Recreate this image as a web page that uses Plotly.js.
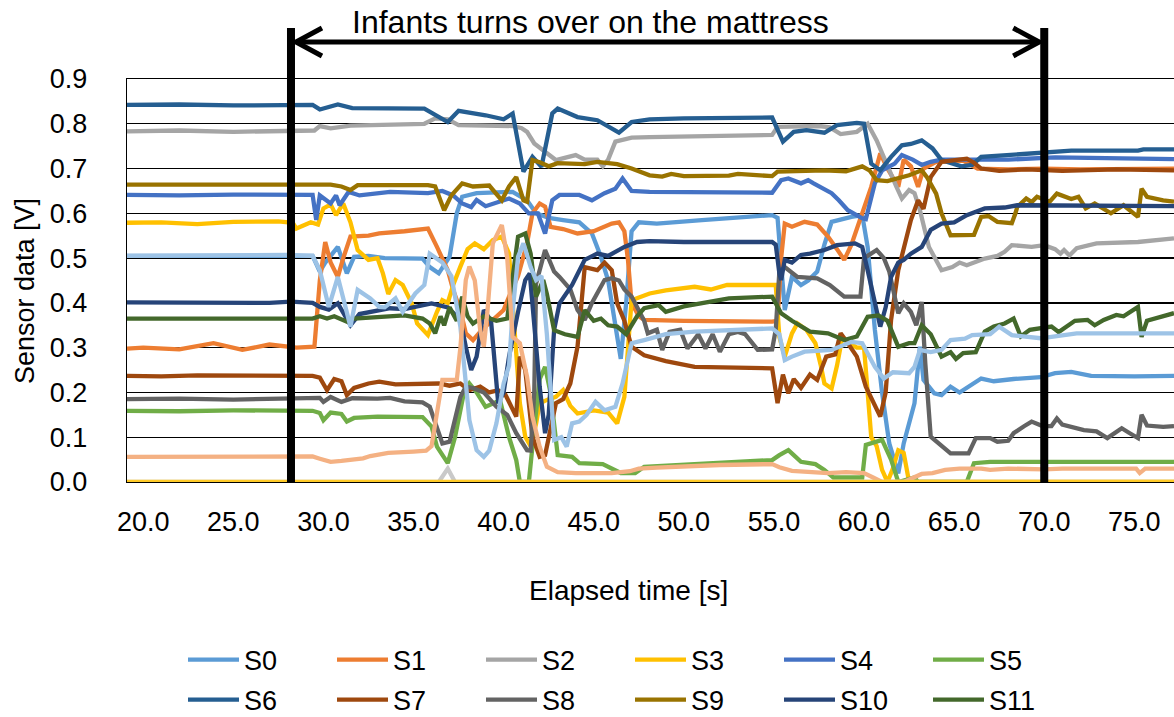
<!DOCTYPE html>
<html>
<head>
<meta charset="utf-8">
<script src="https://cdn.plot.ly/plotly-3.0.1.min.js"></script>
<style>html,body{margin:0;padding:0;background:#fff;}#chart{width:1174px;height:717px;}</style>
</head>
<body>
<div id="chart"></div>
<script>
// ---- data: [elapsed time (s), sensor voltage (V)] ----
const S0 = [[19.1,0.505],[22,0.505],[25,0.503],[27,0.505],[29.4,0.505],[29.8,0.47],[30.1,0.49],[30.8,0.525],[31.3,0.466],[31.7,0.503],[32.5,0.505],[33.4,0.50],[34.5,0.50],[35.5,0.499],[35.9,0.48],[36.4,0.466],[37.0,0.503],[37.4,0.60],[37.7,0.637],[38.5,0.645],[40.5,0.648],[41.3,0.629],[41.8,0.60],[42.5,0.59],[43.3,0.585],[44.2,0.58],[44.9,0.555],[45.4,0.503],[45.8,0.45],[46.2,0.35],[46.5,0.275],[46.8,0.40],[47.1,0.56],[47.5,0.58],[48.5,0.577],[51,0.585],[54.9,0.596],[55.2,0.59],[55.5,0.42],[55.6,0.384],[56.0,0.458],[56.5,0.44],[56.9,0.45],[57.4,0.47],[57.8,0.53],[58.2,0.581],[59.3,0.592],[59.9,0.596],[60.2,0.525],[60.6,0.34],[61.0,0.2],[61.4,0.086],[61.9,0.019],[62.2,0.086],[62.8,0.176],[63.1,0.302],[63.3,0.228],[63.9,0.198],[64.3,0.194],[64.8,0.213],[65.3,0.20],[65.7,0.21],[66.5,0.231],[67.2,0.225],[68.3,0.23],[69.8,0.234],[70.6,0.243],[71.5,0.246],[72.6,0.237],[75,0.236],[77.2,0.237]];
const S1 = [[19.1,0.298],[20,0.30],[22,0.296],[23.9,0.31],[25.5,0.295],[27,0.307],[28.5,0.30],[29.5,0.302],[29.8,0.45],[30.1,0.536],[30.4,0.49],[30.8,0.458],[31.1,0.50],[31.5,0.548],[32.5,0.55],[33.1,0.555],[34.5,0.56],[35.8,0.566],[36.3,0.525],[36.9,0.473],[37.2,0.429],[37.6,0.384],[37.9,0.332],[38.3,0.317],[38.8,0.34],[39.4,0.362],[40.0,0.384],[40.3,0.414],[40.8,0.46],[41.3,0.533],[41.6,0.60],[42.0,0.622],[42.3,0.615],[42.6,0.57],[43.3,0.565],[44.1,0.555],[45.0,0.56],[46.0,0.577],[46.4,0.58],[46.7,0.56],[46.9,0.496],[47.1,0.40],[47.5,0.37],[47.8,0.362],[50,0.36],[54.9,0.358],[55.2,0.36],[55.4,0.50],[55.6,0.577],[56.0,0.57],[56.7,0.581],[57.4,0.575],[58.0,0.548],[58.5,0.52],[58.9,0.496],[59.3,0.53],[59.9,0.60],[60.4,0.659],[60.9,0.734],[61.3,0.70],[61.9,0.659],[62.2,0.72],[62.6,0.705],[63.0,0.659],[63.3,0.70],[64,0.715],[65.5,0.718],[66.3,0.70],[68,0.698],[70,0.70],[72,0.698],[75,0.70],[77.2,0.70]];
const S2 = [[19.1,0.783],[22,0.785],[25,0.782],[28.5,0.784],[29.5,0.785],[29.8,0.795],[30.4,0.79],[31.5,0.796],[33.4,0.798],[35.6,0.80],[36.2,0.812],[36.9,0.81],[37.5,0.797],[39,0.795],[40.5,0.795],[41.0,0.79],[41.3,0.782],[41.7,0.756],[42.3,0.737],[42.9,0.719],[43.6,0.726],[44.0,0.73],[44.5,0.72],[45.2,0.72],[45.5,0.705],[45.8,0.72],[46.2,0.76],[47.1,0.769],[48.1,0.77],[52,0.772],[54.9,0.775],[55.2,0.793],[56.5,0.795],[57.5,0.795],[58.1,0.792],[58.7,0.777],[59.6,0.782],[60.2,0.80],[60.7,0.763],[61.3,0.704],[61.8,0.659],[62.1,0.633],[62.5,0.652],[62.8,0.645],[63.1,0.607],[63.6,0.525],[64.1,0.484],[64.3,0.473],[64.9,0.48],[65.3,0.49],[65.7,0.484],[66.7,0.499],[67.4,0.505],[67.8,0.514],[68.2,0.529],[69.3,0.525],[70.0,0.529],[70.6,0.52],[70.9,0.51],[71.1,0.518],[71.4,0.506],[71.8,0.522],[72.9,0.533],[75.2,0.536],[77.2,0.544]];
const S3 = [[19.1,0.579],[21,0.58],[23,0.576],[25,0.581],[27.5,0.582],[28.3,0.579],[28.5,0.566],[29.3,0.58],[29.7,0.575],[30.0,0.611],[30.4,0.62],[30.7,0.596],[31.1,0.622],[31.5,0.58],[31.9,0.518],[32.5,0.496],[33.0,0.50],[33.3,0.466],[33.6,0.42],[34.0,0.451],[34.4,0.44],[34.9,0.399],[35.2,0.354],[35.8,0.328],[36.3,0.38],[36.6,0.406],[36.9,0.40],[37.2,0.44],[37.6,0.481],[38.0,0.52],[38.4,0.533],[38.9,0.52],[39.4,0.54],[39.9,0.548],[40.3,0.51],[40.6,0.35],[40.9,0.176],[41.2,0.101],[41.5,0.08],[41.8,0.13],[42.0,0.176],[42.5,0.185],[42.9,0.19],[43.3,0.205],[43.7,0.17],[44.1,0.153],[45,0.16],[45.8,0.155],[46.3,0.131],[46.7,0.19],[47.1,0.406],[48.1,0.421],[49,0.428],[50.6,0.436],[51.5,0.43],[52.4,0.44],[54.9,0.442],[55.1,0.44],[55.3,0.324],[55.6,0.28],[56.0,0.332],[56.3,0.354],[56.8,0.34],[57.3,0.31],[57.6,0.26],[57.8,0.22],[58.2,0.209],[58.5,0.26],[58.8,0.324],[59.2,0.31],[59.6,0.30],[60.0,0.30],[60.2,0.20],[60.4,0.10],[60.7,0.08],[61.0,0.027],[61.3,0.0],[61.6,0.03],[61.9,0.071],[62.2,0.065],[62.5,0.0],[77.2,0.0]];
const S4 = [[19.1,0.641],[22,0.64],[25,0.642],[28,0.641],[29.4,0.641],[29.6,0.585],[29.8,0.64],[30.4,0.622],[30.7,0.64],[30.9,0.618],[31.4,0.648],[32,0.64],[33.7,0.648],[35.8,0.645],[36.6,0.65],[37.2,0.64],[37.7,0.622],[38.2,0.614],[38.5,0.63],[39.0,0.616],[39.6,0.625],[40.3,0.633],[40.9,0.622],[41.4,0.60],[41.9,0.60],[42.3,0.555],[42.7,0.629],[43.1,0.641],[44.2,0.641],[44.9,0.629],[45.6,0.645],[46.2,0.655],[46.6,0.678],[47.1,0.65],[48.1,0.648],[52,0.646],[54.9,0.646],[55.4,0.674],[55.8,0.678],[56.5,0.667],[56.9,0.674],[57.2,0.667],[57.8,0.655],[58.2,0.645],[58.6,0.629],[59.1,0.607],[59.9,0.589],[60.1,0.587],[60.6,0.667],[61.0,0.696],[61.7,0.711],[62.1,0.73],[62.7,0.72],[63.2,0.708],[63.7,0.715],[64.3,0.72],[66,0.72],[68,0.72],[70.6,0.725],[73,0.723],[77.2,0.721]];
const S5 = [[19.1,0.159],[22,0.158],[25,0.16],[28,0.159],[29.4,0.159],[29.8,0.154],[30.0,0.138],[30.4,0.155],[31.0,0.152],[31.3,0.135],[31.7,0.143],[33,0.146],[35.5,0.145],[36.0,0.124],[36.3,0.079],[36.9,0.042],[37.3,0.10],[37.8,0.20],[38.1,0.22],[38.5,0.20],[39.0,0.168],[39.4,0.175],[39.8,0.183],[40.3,0.10],[40.7,0.049],[40.9,0.0],[41.4,0.0],[41.7,0.12],[42.0,0.23],[42.3,0.257],[42.6,0.20],[43.0,0.06],[43.8,0.056],[44.2,0.042],[45.5,0.04],[46.5,0.02],[47.3,0.02],[47.8,0.034],[50.6,0.04],[52.4,0.045],[54.9,0.049],[55.3,0.06],[55.8,0.071],[56.1,0.06],[56.5,0.045],[57.3,0.04],[57.8,0.027],[58.3,0.01],[59.9,0.01],[60.1,0.083],[61.0,0.094],[61.5,0.05],[61.9,0.0],[62.8,0.01],[63.0,0.0],[65.7,0.0],[66.1,0.042],[67,0.045],[77.2,0.045]];
const S6 = [[19.1,0.842],[22,0.843],[25,0.841],[28,0.842],[29.4,0.842],[29.8,0.832],[30.8,0.843],[31.6,0.835],[33.4,0.834],[35.6,0.834],[36.9,0.804],[37.5,0.829],[39.0,0.819],[40.0,0.81],[40.5,0.823],[41.1,0.693],[41.6,0.726],[42.1,0.704],[42.7,0.823],[43.0,0.834],[44.1,0.815],[45.2,0.808],[46.4,0.78],[47.1,0.804],[48.1,0.81],[50,0.812],[54.9,0.814],[55.5,0.76],[56.1,0.782],[56.8,0.786],[57.8,0.78],[58.5,0.797],[59.6,0.802],[60.0,0.80],[60.4,0.711],[60.9,0.696],[61.5,0.726],[62.1,0.752],[62.6,0.755],[63.2,0.763],[63.8,0.745],[64.3,0.719],[65.4,0.705],[66.0,0.708],[66.5,0.726],[67.8,0.73],[69.6,0.735],[71.5,0.74],[75.2,0.74],[75.5,0.743],[77.2,0.743]];
const S7 = [[19.1,0.237],[21,0.236],[23,0.238],[25,0.237],[27,0.238],[29.4,0.237],[29.8,0.233],[30.2,0.205],[30.6,0.23],[31.0,0.225],[31.3,0.194],[31.7,0.21],[32.5,0.22],[33.1,0.224],[34,0.218],[35.6,0.22],[36.4,0.22],[37.0,0.215],[37.6,0.22],[38.1,0.205],[38.7,0.213],[39.2,0.20],[39.7,0.205],[40.1,0.195],[40.7,0.146],[40.9,0.28],[41.2,0.25],[41.6,0.101],[42.0,0.056],[42.3,0.06],[42.9,0.176],[43.3,0.185],[43.7,0.22],[44.1,0.302],[44.3,0.40],[44.5,0.48],[45.2,0.473],[45.6,0.49],[46.0,0.473],[46.3,0.399],[46.7,0.36],[47.1,0.302],[47.8,0.283],[49,0.27],[50.6,0.257],[54.9,0.254],[55.2,0.176],[55.5,0.24],[55.8,0.198],[56.1,0.23],[56.5,0.21],[57.0,0.24],[57.4,0.228],[57.9,0.28],[58.4,0.285],[58.7,0.332],[59.1,0.31],[59.6,0.28],[60.1,0.213],[60.6,0.168],[60.9,0.146],[61.2,0.20],[61.5,0.362],[61.9,0.473],[62.2,0.518],[62.6,0.585],[63.0,0.629],[63.3,0.61],[63.7,0.681],[64.3,0.715],[65.7,0.722],[66.1,0.713],[66.5,0.70],[67.5,0.695],[69,0.698],[71,0.695],[74,0.698],[77.2,0.696]];
const S8 = [[19.1,0.185],[22,0.186],[25,0.184],[28,0.185],[29.4,0.186],[29.8,0.188],[30.0,0.179],[30.4,0.19],[31.0,0.179],[31.6,0.187],[33,0.186],[33.7,0.188],[34.5,0.18],[35.5,0.178],[35.9,0.168],[36.3,0.12],[36.6,0.086],[37.0,0.09],[37.6,0.19],[37.9,0.213],[38.3,0.21],[38.9,0.20],[39.6,0.168],[40.2,0.15],[40.7,0.109],[41.3,0.071],[41.5,0.07],[41.7,0.20],[41.8,0.443],[42.3,0.518],[42.8,0.47],[43.1,0.458],[43.7,0.43],[44.1,0.384],[44.5,0.362],[44.9,0.40],[45.6,0.451],[46.0,0.455],[46.4,0.45],[46.7,0.43],[47.1,0.414],[47.8,0.36],[48.0,0.332],[48.5,0.34],[48.8,0.295],[49.2,0.335],[49.8,0.34],[50.2,0.298],[50.8,0.33],[51.2,0.298],[51.6,0.33],[52.0,0.291],[52.5,0.33],[53.0,0.335],[53.4,0.33],[54.1,0.295],[54.9,0.296],[55.1,0.34],[55.3,0.47],[55.6,0.48],[56.3,0.458],[57.4,0.455],[58.1,0.44],[58.9,0.414],[59.8,0.414],[60.0,0.50],[60.7,0.518],[61.1,0.50],[61.4,0.47],[61.9,0.377],[62.2,0.399],[62.6,0.38],[62.9,0.35],[63.2,0.402],[63.4,0.265],[63.7,0.101],[64.3,0.08],[64.8,0.064],[65.8,0.064],[66.2,0.098],[67.0,0.098],[67.4,0.09],[68.0,0.092],[68.3,0.109],[68.9,0.125],[69.3,0.135],[69.9,0.125],[70.4,0.125],[70.7,0.142],[71.0,0.128],[72.2,0.116],[72.9,0.113],[73.5,0.098],[74.3,0.12],[74.7,0.11],[75.2,0.098],[75.4,0.15],[75.7,0.126],[76.6,0.123],[77.2,0.125]];
const S9 = [[19.1,0.664],[22,0.665],[25,0.664],[28,0.664],[30.4,0.664],[31.0,0.66],[31.5,0.652],[31.9,0.663],[33.7,0.663],[35.8,0.663],[36.2,0.66],[36.7,0.607],[37.1,0.64],[37.7,0.667],[38.3,0.66],[39.2,0.662],[39.9,0.629],[40.3,0.66],[40.7,0.681],[41.1,0.629],[41.3,0.626],[41.6,0.719],[42.0,0.714],[42.5,0.705],[43.0,0.712],[44.5,0.71],[45.2,0.715],[46.3,0.71],[47.1,0.70],[48.1,0.685],[48.8,0.682],[49.3,0.688],[50,0.683],[52.5,0.684],[53,0.688],[54.9,0.683],[55.2,0.693],[57.8,0.696],[59.0,0.694],[59.9,0.705],[60.3,0.696],[60.7,0.674],[61.3,0.672],[62.5,0.685],[63.2,0.696],[63.5,0.68],[64.0,0.644],[64.3,0.60],[64.8,0.551],[66.1,0.552],[66.5,0.592],[66.9,0.594],[67.4,0.581],[68.2,0.578],[68.4,0.60],[68.5,0.614],[69.0,0.633],[69.3,0.625],[69.6,0.637],[70.3,0.626],[70.7,0.644],[71.5,0.632],[71.9,0.637],[72.3,0.611],[72.8,0.622],[73.3,0.611],[73.7,0.60],[74.4,0.618],[75.2,0.592],[75.4,0.655],[75.7,0.637],[76.6,0.629],[77.2,0.626]];
const S10 = [[19.1,0.401],[22,0.40],[25,0.401],[27,0.40],[28.2,0.403],[29.4,0.40],[29.8,0.391],[30.3,0.385],[30.8,0.399],[31.5,0.35],[32.0,0.375],[32.8,0.38],[33.3,0.385],[33.7,0.388],[34.5,0.386],[36.0,0.399],[36.9,0.39],[37.6,0.362],[37.9,0.302],[38.2,0.25],[38.5,0.28],[38.9,0.384],[39.3,0.36],[39.5,0.28],[39.7,0.176],[40.0,0.20],[40.3,0.28],[40.8,0.38],[41.2,0.451],[41.45,0.466],[41.7,0.35],[42.0,0.213],[42.3,0.109],[42.5,0.15],[42.8,0.339],[43.1,0.399],[43.8,0.44],[44.2,0.473],[44.5,0.496],[45.2,0.51],[45.8,0.505],[46.7,0.525],[47.4,0.536],[48.1,0.538],[50,0.536],[54.9,0.536],[55.1,0.53],[55.3,0.466],[55.4,0.451],[55.6,0.496],[56.0,0.49],[56.5,0.507],[57.0,0.51],[57.8,0.518],[58.5,0.529],[59.5,0.533],[59.9,0.525],[60.2,0.473],[60.6,0.40],[60.9,0.347],[61.2,0.39],[61.5,0.458],[61.9,0.49],[62.2,0.496],[62.6,0.51],[63.2,0.525],[63.7,0.563],[64.3,0.577],[65,0.58],[65.7,0.596],[66.7,0.611],[67.8,0.613],[68.5,0.618],[70,0.618],[72,0.617],[77.2,0.616]];
const S11 = [[19.1,0.365],[22,0.366],[25,0.365],[28,0.365],[29.4,0.365],[29.8,0.37],[30.2,0.365],[30.6,0.37],[31.3,0.358],[31.7,0.365],[33,0.368],[33.7,0.37],[34.5,0.372],[35.5,0.365],[35.9,0.354],[36.2,0.332],[36.5,0.37],[36.7,0.35],[37.0,0.39],[37.4,0.36],[37.7,0.414],[38.0,0.37],[38.3,0.354],[38.9,0.37],[39.6,0.36],[40.2,0.365],[40.5,0.45],[40.8,0.548],[41.2,0.555],[41.5,0.51],[41.8,0.414],[42.2,0.451],[42.4,0.42],[42.8,0.339],[43.4,0.33],[44.1,0.324],[44.5,0.384],[45.0,0.36],[45.4,0.365],[45.8,0.35],[46.3,0.347],[46.8,0.33],[47.4,0.37],[47.8,0.388],[48.6,0.395],[49.0,0.38],[50.0,0.392],[52.5,0.41],[54.9,0.414],[55.4,0.377],[56.0,0.36],[56.5,0.347],[57.0,0.336],[58.0,0.332],[58.9,0.317],[59.6,0.325],[60.2,0.369],[60.8,0.372],[61.3,0.36],[61.9,0.302],[62.5,0.31],[62.8,0.31],[63.2,0.35],[63.7,0.33],[64.3,0.28],[64.8,0.29],[65.1,0.275],[65.5,0.288],[66.2,0.29],[66.7,0.336],[67.2,0.347],[67.8,0.354],[68.3,0.365],[68.7,0.325],[69.2,0.34],[70.4,0.347],[70.8,0.335],[71.7,0.36],[72.4,0.362],[72.8,0.35],[73.3,0.362],[74.0,0.373],[74.4,0.37],[75.2,0.391],[75.4,0.324],[75.7,0.36],[77.2,0.377]];
// further sensor channels drawn in the plot but not listed in the legend
const S12 = [[19.1,0.505],[22,0.506],[25,0.505],[28,0.507],[29.4,0.505],[29.8,0.473],[30.3,0.391],[30.8,0.458],[31.5,0.347],[31.9,0.429],[32.6,0.41],[33.1,0.391],[33.4,0.39],[34.0,0.41],[34.4,0.38],[35.1,0.421],[35.6,0.44],[35.9,0.51],[36.6,0.49],[37.1,0.46],[37.6,0.347],[37.9,0.22],[38.1,0.138],[38.5,0.071],[38.9,0.056],[39.2,0.07],[39.6,0.131],[40.0,0.22],[40.3,0.26],[40.5,0.38],[40.8,0.503],[41.1,0.533],[41.5,0.48],[41.8,0.451],[42.1,0.46],[42.4,0.33],[42.8,0.094],[43.2,0.10],[43.5,0.079],[43.8,0.131],[44.2,0.135],[44.6,0.15],[45.1,0.179],[45.6,0.16],[46.2,0.168],[46.6,0.22],[47.1,0.31],[47.8,0.317],[49,0.33],[50.6,0.336],[54.9,0.343],[55.3,0.33],[55.6,0.272],[56.0,0.28],[56.7,0.291],[58.2,0.295],[59.3,0.313],[59.9,0.31],[60.6,0.257],[61.1,0.231],[61.6,0.245],[62.5,0.243],[62.8,0.257],[63.1,0.295],[63.7,0.29],[64.3,0.295],[64.8,0.317],[65.6,0.32],[66.0,0.328],[67.0,0.33],[67.5,0.347],[68.2,0.328],[69.8,0.321],[70.6,0.325],[71.8,0.332],[77.2,0.332]];
const S13 = [[19.1,0.056],[22,0.056],[25,0.057],[28,0.056],[29.4,0.057],[29.8,0.052],[30.4,0.045],[31,0.047],[31.6,0.05],[32.2,0.053],[32.6,0.058],[33.2,0.063],[33.6,0.065],[35.0,0.068],[35.7,0.07],[36.0,0.08],[36.3,0.16],[36.6,0.228],[37.4,0.228],[37.6,0.30],[37.9,0.451],[38.1,0.481],[38.4,0.45],[38.7,0.339],[38.9,0.302],[39.1,0.38],[39.4,0.533],[39.9,0.574],[40.2,0.50],[40.5,0.324],[40.9,0.31],[41.3,0.235],[41.6,0.146],[42.0,0.079],[42.4,0.034],[43.0,0.022],[44,0.02],[46,0.02],[47,0.024],[47.5,0.03],[48.5,0.032],[50,0.035],[52,0.038],[54.9,0.04],[55.3,0.033],[56,0.025],[57,0.022],[58,0.02],[59,0.022],[60,0.02],[60.5,0.01],[61,0.0],[62.2,0.0],[62.8,0.01],[63.2,0.018],[63.8,0.02],[64.5,0.027],[65.3,0.03],[66.5,0.03],[67,0.027],[68,0.03],[70.0,0.028],[71,0.03],[75.1,0.03],[75.3,0.02],[75.6,0.03],[77.2,0.03]];
const S14 = [[19.1,0.0],[36.4,0.0],[36.9,0.03],[37.3,0.0],[77.2,0.0]];
const S15 = [[19.1,0.0],[77.2,0.0]];

const seriesData = [S0,S1,S2,S3,S4,S5,S6,S7,S8,S9,S10,S11,S12,S13,S14,S15];
const seriesNames = ['S0','S1','S2','S3','S4','S5','S6','S7','S8','S9','S10','S11','S12','S13','S14','S15'];
const legendCount = 12;
const xTicks = [20,25,30,35,40,45,50,55,60,65,70,75];
const yTicks = [0,0.1,0.2,0.3,0.4,0.5,0.6,0.7,0.8,0.9];
const eventWindow = [28.2, 70.0];   // infant turning over (s)
const eventLabel = 'Infants turns over on the mattress';

// ---- styles ----
const colors = ['#5B9BD5','#ED7D31','#A5A5A5','#FFC000','#4472C4','#70AD47',
                '#255E91','#9E480E','#636363','#997300','#264478','#43682B',
                '#9DC3E6','#F4B183','#C9C9C9','#FFCA28'];
const FONT = 'Liberation Sans, Arial, sans-serif';

const traces = seriesData.map((pts, i) => ({
  type: 'scatter', mode: 'lines',
  x: pts.map(p => p[0]), y: pts.map(p => p[1]),
  name: seriesNames[i],
  line: {color: colors[i], width: 4.3},
  showlegend: i < legendCount,
  legend: i < 6 ? 'legend' : 'legend2',
  hoverinfo: 'skip'
}));

const W = 1174, H = 717;
const M = {l: 127, r: 0, t: 79, b: 235, autoexpand: false};
const plotW = W - M.l - M.r, plotH = H - M.t - M.b;
const xr = [19.1, 77.2];
const pxPerSec = plotW / (xr[1] - xr[0]);
const py = v => v / plotH;            // pixels -> paper units (vertical)
const ps = v => v / pxPerSec;         // pixels -> seconds (horizontal)

const arrowY = 1 + py(440 - 403);     // arrow level above plot top
const lineTop = 1 + py(454 - 403);
const headDx = ps(26), headDy = py(14), inset = ps(5);
const shapes = [
  {type:'line', xref:'x', yref:'paper', x0:eventWindow[0], x1:eventWindow[0], y0:0, y1:lineTop, line:{color:'#000', width:8}},
  {type:'line', xref:'x', yref:'paper', x0:eventWindow[1], x1:eventWindow[1], y0:0, y1:lineTop, line:{color:'#000', width:8}},
  {type:'line', xref:'x', yref:'paper', x0:eventWindow[0]+inset, x1:eventWindow[1]-inset, y0:arrowY, y1:arrowY, line:{color:'#000', width:5}},
  {type:'path', xref:'x', yref:'paper',
   path:`M${eventWindow[0]+inset+headDx},${arrowY+headDy} L${eventWindow[0]+inset},${arrowY} L${eventWindow[0]+inset+headDx},${arrowY-headDy}`,
   line:{color:'#000', width:5}},
  {type:'path', xref:'x', yref:'paper',
   path:`M${eventWindow[1]-inset-headDx},${arrowY+headDy} L${eventWindow[1]-inset},${arrowY} L${eventWindow[1]-inset-headDx},${arrowY-headDy}`,
   line:{color:'#000', width:5}}
];

const annotations = [
  {text: eventLabel, xref:'paper', yref:'paper', x:(590-M.l)/plotW, y:1+py(460-403), showarrow:false,
   font:{family:FONT, size:32, color:'#000'}, xanchor:'center', yanchor:'middle'},
  {text: 'Sensor data [V]', xref:'paper', yref:'paper', x:-(M.l-25)/plotW, y:(H-M.b-291)/plotH, showarrow:false,
   textangle:-90, font:{family:FONT, size:27, color:'#000'}, xanchor:'center', yanchor:'middle'},
  {text: 'Elapsed time [s]', xref:'paper', yref:'paper', x:(628-M.l)/plotW, y:-(590-(H-M.b))/plotH, showarrow:false,
   font:{family:FONT, size:28, color:'#000'}, xanchor:'center', yanchor:'middle'}
];

const legendBase = {orientation:'h', xref:'paper', yref:'paper', xanchor:'left', yanchor:'middle',
  x:(183-M.l)/plotW, font:{family:FONT, size:27, color:'#000'}, bgcolor:'rgba(0,0,0,0)',
  entrywidth:83, entrywidthmode:'pixels', itemwidth:51, tracegroupgap:0};

const layout = {
  width: W, height: H, margin: M,
  paper_bgcolor:'#fff', plot_bgcolor:'#fff',
  font:{family:FONT, size:27, color:'#000'},
  showlegend:true,
  xaxis:{range:xr, tickvals:xTicks, ticktext:xTicks.map(v=>v.toFixed(1)), automargin:false,
    showgrid:false, zeroline:false, showline:true, mirror:true, linecolor:'#000', linewidth:1.3,
    ticks:'', ticklabelstandoff:15, tickfont:{family:FONT, size:27, color:'#000'}, fixedrange:true},
  yaxis:{range:[0,0.9], tickvals:yTicks, ticktext:yTicks.map(v=>v.toFixed(1)), automargin:false,
    showgrid:true, gridcolor:'#000', gridwidth:1.3, zeroline:false,
    showline:true, linecolor:'#000', linewidth:1.3,
    ticks:'', ticklabelstandoff:33, tickfont:{family:FONT, size:27, color:'#000'}, fixedrange:true},
  legend: Object.assign({}, legendBase, {y:-(660-(H-M.b))/plotH}),
  legend2: Object.assign({}, legendBase, {y:-(700-(H-M.b))/plotH}),
  shapes: shapes,
  annotations: annotations
};

Plotly.newPlot('chart', traces, layout, {staticPlot:true, displayModeBar:false});
</script>
</body>
</html>
